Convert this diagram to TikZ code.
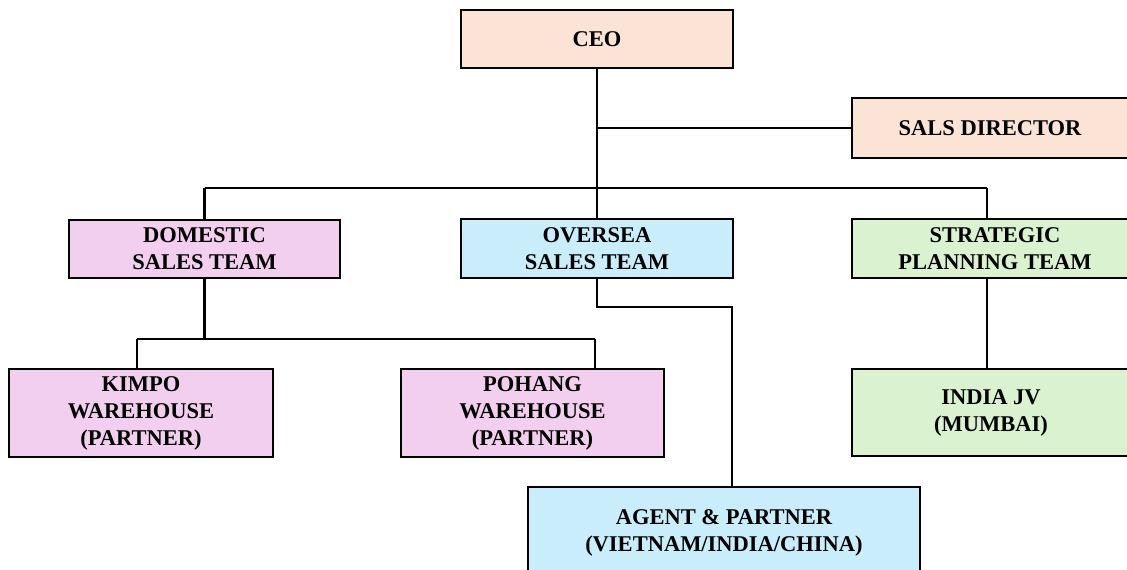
\documentclass[tikz,border=0pt]{standalone}
\usepackage{fontspec}
\setmainfont{Liberation Serif}
\definecolor{cpeach}{HTML}{FBE3D6}
\definecolor{cpink}{HTML}{F2CEEF}
\definecolor{cblue}{HTML}{CAEDFB}
\definecolor{cgreen}{HTML}{DAF2D0}
\tikzset{
  box/.style={draw=black, line width=2.3pt, rectangle, align=center, inner sep=0pt,
    font=\fontsize{22.5}{27}\selectfont\bfseries},
  conn/.style={draw=black, line width=2.6pt}
}
\begin{document}
\begin{tikzpicture}[x=1pt,y=-1pt]
\useasboundingbox (0,0) rectangle (1127,570);
\clip (0,0) rectangle (1127,570);
% boxes
\node[box, fill=cpeach, minimum width=272pt, minimum height=58pt] (ceo) at (597,39) {CEO};
\node[box, fill=cpeach, minimum width=276pt, minimum height=60pt] (dir) at (990,128) {SALS DIRECTOR};
\node[box, fill=cpink, minimum width=271pt, minimum height=58pt] (dom) at (204.5,249) {DOMESTIC\\SALES TEAM};
\node[box, fill=cblue, minimum width=272pt, minimum height=59pt] (ovs) at (597,248.5) {OVERSEA\\SALES TEAM};
\node[box, fill=cgreen, minimum width=286pt, minimum height=59pt] (str) at (995,248.5) {STRATEGIC\\PLANNING TEAM};
\node[box, fill=cpink, minimum width=264pt, minimum height=88pt] (kim) at (141,413) {KIMPO\\WAREHOUSE\\(PARTNER)};
\node[box, fill=cpink, minimum width=263pt, minimum height=88pt] (poh) at (532.5,413) {POHANG\\WAREHOUSE\\(PARTNER)};
\node[box, fill=cgreen, minimum width=278pt, minimum height=87pt] (ind) at (991,412.5) {INDIA JV\\(MUMBAI)};
\node[box, fill=cblue, minimum width=392pt, minimum height=92pt] (agt) at (724,533) {AGENT \& PARTNER\\(VIETNAM/INDIA/CHINA)};
% coordinates
\coordinate (busL) at (204.5,188);
\coordinate (busR) at (987,188);
\coordinate (d1) at (137,339);
\coordinate (d2) at (595,339);
\coordinate (o1) at (732,307);
% connectors
\draw[conn] (ceo.south) -- (ceo.south |- busL);
\draw[conn] (ceo.south |- dir.west) -- (dir.west);
\draw[conn] (busL) -- (busR);
\draw[conn] (busL) -- (dom.north);
\draw[conn] (ovs.north) -- (ovs.north |- busL);
\draw[conn] (busR) -- (str.north -| busR);
\draw[conn] (dom.south) -- (dom.south |- d1);
\draw[conn] (d1) -- (d2);
\draw[conn] (d1) -- (kim.north -| d1);
\draw[conn] (d2) -- (poh.north -| d2);
\draw[conn] (ovs.south) |- (o1) -- (agt.north -| o1);
\draw[conn] (str.south -| busR) -- (ind.north -| busR);
\end{tikzpicture}
\end{document}
